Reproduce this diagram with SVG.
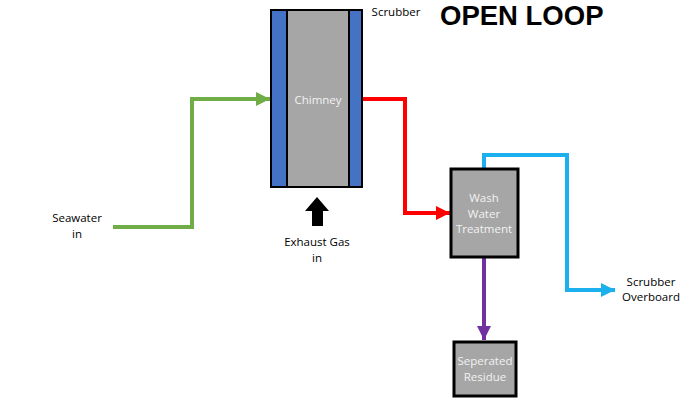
<svg xmlns="http://www.w3.org/2000/svg" width="700" height="400" viewBox="0 0 700 400">
<style>
.lbl{font-family:"Open Sans","Liberation Sans",sans-serif;font-size:11.5px;fill:#000;text-anchor:middle}
.wl{font-family:"Open Sans","Liberation Sans",sans-serif;font-size:11.5px;fill:#f2f2f2;text-anchor:middle}
.box{fill:#a6a6a6;stroke:#000;stroke-width:3}
.pipe{fill:none;stroke-width:4}
</style>
<defs>
<marker id="ag" viewBox="0 0 10 10" refX="10" refY="5" markerWidth="3.5" markerHeight="4" orient="auto" markerUnits="strokeWidth"><path d="M0,0L10,5L0,10z" fill="#70ad47"/></marker>
<marker id="ar" viewBox="0 0 10 10" refX="10" refY="5" markerWidth="3.5" markerHeight="4" orient="auto" markerUnits="strokeWidth"><path d="M0,0L10,5L0,10z" fill="#ff0000"/></marker>
<marker id="ab" viewBox="0 0 10 10" refX="10" refY="5" markerWidth="3.5" markerHeight="4" orient="auto" markerUnits="strokeWidth"><path d="M0,0L10,5L0,10z" fill="#1cb0ee"/></marker>
<marker id="ap" viewBox="0 0 10 10" refX="10" refY="5" markerWidth="3.5" markerHeight="4" orient="auto" markerUnits="strokeWidth"><path d="M0,0L10,5L0,10z" fill="#7030a0"/></marker>
</defs>
<rect width="700" height="400" fill="#fff"/>
<text x="440" y="25" font-family="'Liberation Sans',Arial,sans-serif" font-weight="bold" font-size="27.5">OPEN LOOP</text>
<g id="connectors">
<path class="pipe" stroke="#70ad47" d="M113,227H192V99H270" marker-end="url(#ag)"/>
<path class="pipe" stroke="#ff0000" d="M362,99H405V213H450" marker-end="url(#ar)"/>
<path class="pipe" stroke="#1cb0ee" d="M484,168V155H567V290H615" marker-end="url(#ab)"/>
<path class="pipe" stroke="#7030a0" d="M484,258V340" marker-end="url(#ap)"/>
<path d="M317,197L329,211H323V226H312V211H305Z" fill="#000"/>
</g>
<g id="scrubber">
<rect x="271" y="10" width="16" height="177" fill="#4472c4" stroke="#000" stroke-width="2"/>
<rect x="287" y="10" width="62" height="177" fill="#a6a6a6" stroke="#000" stroke-width="2"/>
<rect x="349" y="10" width="13" height="177" fill="#4472c4" stroke="#000" stroke-width="2"/>
<text class="wl" x="318" y="104">Chimney</text>
<text class="lbl" x="396" y="16">Scrubber</text>
</g>
<g id="wash">
<rect class="box" x="451" y="169" width="67" height="88"/>
<text class="wl" x="484" y="202">Wash</text>
<text class="wl" x="484" y="218">Water</text>
<text class="wl" x="484" y="233">Treatment</text>
</g>
<g id="residue">
<rect class="box" x="454" y="342" width="62" height="54"/>
<text class="wl" x="485" y="365">Seperated</text>
<text class="wl" x="485" y="381">Residue</text>
</g>
<g id="seawater">
<text class="lbl" x="77" y="222">Seawater</text>
<text class="lbl" x="77" y="238">in</text>
</g>
<g id="exhaust">
<text class="lbl" x="317" y="246">Exhaust Gas</text>
<text class="lbl" x="317" y="262">in</text>
</g>
<g id="overboard">
<text class="lbl" x="651" y="286">Scrubber</text>
<text class="lbl" x="651" y="301">Overboard</text>
</g>
</svg>
